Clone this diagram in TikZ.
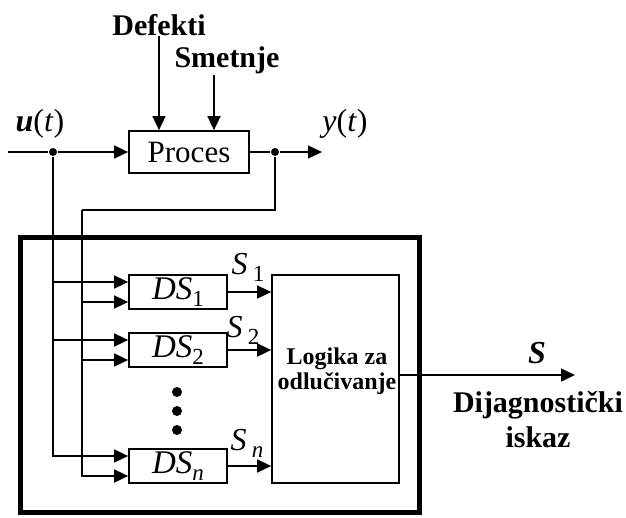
\documentclass[tikz,border=0pt]{standalone}
\usepackage{fontspec}
\setmainfont{Liberation Serif}
\usetikzlibrary{arrows.meta,calc}
\newcommand\mysub[1]{\raisebox{-7pt}{\fontsize{23}{23}\selectfont #1}}
\begin{document}
\begin{tikzpicture}[x=1pt,y=-1pt,
  line width=1.5pt,
  arr/.style={-{Triangle[length=14pt,width=13pt]}},
  box/.style={draw,line width=1.7pt,inner sep=0pt},
  dot/.style={circle,fill,inner sep=0pt,minimum size=8pt},
  bigdot/.style={circle,fill,inner sep=0pt,minimum size=10pt},
  lbl/.style={font=\fontsize{30}{32}\selectfont\bfseries,inner sep=0pt},
  ital/.style={font=\fontsize{32}{34}\selectfont,inner sep=0pt},
]
\useasboundingbox (0,0) rectangle (626,517);
% frame
\node[draw,line width=5pt,minimum width=399pt,minimum height=275pt,inner sep=0pt] (frame) at (220,375) {};
% process
\node[box,minimum width=120pt,minimum height=42pt,font=\fontsize{31}{33}\selectfont] (proc) at (189,152) {Proces};
\node[lbl] (def) at (159,25) {Defekti};
\node[lbl] (smet) at (227,60) {Smetnje};
\draw[arr] (def.south) -- (def.south |- proc.north);
\coordinate (smtop) at (214,75);
\draw[arr] (smtop) -- (smtop |- proc.north);
\coordinate (in) at (8,152);
\node[dot] (j1) at (53,152) {};
\node[dot] (j2) at (275,152) {};
\coordinate (yend) at (322,152);
\draw (in) -- (j1);
\draw[arr] (j1) -- (proc.west);
\draw (proc.east) -- (j2);
\draw[arr] (j2) -- (yend);
\node[ital] (u) at (40,124) {\textbf{\textit{u}}(\textit{t})};
\node[ital] (y) at (345,124) {\textit{y}(\textit{t})};
% DS blocks
\node[box,minimum width=98pt,minimum height=34pt,font=\fontsize{33}{34}\selectfont] (ds1) at (178,292) {\textit{DS}\mysub{1}};
\node[box,minimum width=98pt,minimum height=34pt,font=\fontsize{33}{34}\selectfont] (ds2) at (178,350) {\textit{DS}\mysub{2}};
\node[box,minimum width=98pt,minimum height=34pt,font=\fontsize{33}{34}\selectfont] (dsn) at (178,466) {\textit{DS}\mysub{\textit{n}}};
\node[bigdot] (d1) at (177,392) {};
\node[bigdot] (d2) at (177,411) {};
\node[bigdot] (d3) at (177,430) {};
% inputs
\draw[arr] (j1) |- ([yshift=10pt]ds1.west);
\draw[arr] (j1) |- ([yshift=10pt]ds2.west);
\draw[arr] (j1) |- ([yshift=10pt]dsn.west);
\coordinate (fb) at (82,210);
\draw (j2) |- (fb);
\draw[arr] (fb) |- ([yshift=-10pt]ds1.west);
\draw[arr] (fb) |- ([yshift=-10pt]ds2.west);
\draw[arr] (fb) |- ([yshift=-10pt]dsn.west);
% logic
\node[box,minimum width=127pt,minimum height=208pt] (logic) at (335.5,379) {};
\node[font=\fontsize{24}{25}\selectfont\bfseries,align=center,inner sep=0pt] (ltxt) at (337,371) {Logika za\\odlučivanje};
\draw[arr] (ds1.east) -- (ds1.east -| logic.west);
\draw[arr] (ds2.east) -- (ds2.east -| logic.west);
\draw[arr] (dsn.east) -- (dsn.east -| logic.west);
\node[ital] (s1) at (248,267) {\textit{S}\,\mysub{1}};
\node[ital] (s2) at (243,330) {\textit{S}\,\mysub{2}};
\node[ital] (sn) at (247,443) {\textit{S}\,\mysub{\textit{n}}};
% output
\coordinate (send) at (575,375);
\draw[arr] (logic.east |- send) -- (send);
\node[ital] (s) at (537,353) {\textbf{\textit{S}}};
\node[lbl,align=center,font=\fontsize{30}{35}\selectfont\bfseries] (diag) at (538,420) {Dijagnostički\\iskaz};
\end{tikzpicture}
\end{document}
